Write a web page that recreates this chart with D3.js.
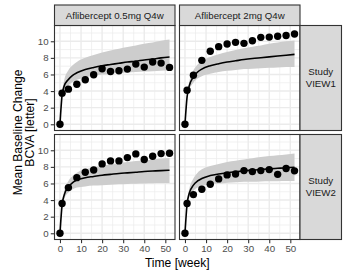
<!DOCTYPE html>
<html>
<head>
<meta charset="utf-8">
<script src="https://cdn.jsdelivr.net/npm/d3@7"></script>
<style>
  body { margin: 0; background: #fff; }
  svg { display: block; font-family: "Liberation Sans", Arial, sans-serif; }
</style>
</head>
<body>
<svg id="chart" width="350" height="278"></svg>
<script>
const doses = ['Aflibercept 0.5mg Q4w', 'Aflibercept 2mg Q4w']
const studies = ['Study\nVIEW1', 'Study\nVIEW2']

const obsWeeks = [0, 1, 4, 8, 12, 16, 20, 24, 28, 32, 36, 40, 44, 48, 52]
const obsView1Low = [0, 3.75, 4.23, 4.83, 5.36, 5.96, 6.69, 6.36, 6.44, 6.65, 7.25, 6.89, 7.5, 7.37, 6.85]
const obsView1High = [0, 4.1, 5.9, 7.7, 8.8, 9.35, 9.67, 9.87, 9.75, 10.07, 10.47, 10.5, 10.6, 10.7, 10.88]
const obsView2Low = [0, 3.58, 5.5, 6.7, 7.35, 7.63, 8.36, 8.72, 8.72, 9.12, 9.56, 8.88, 9.28, 9.6, 9.64]
const obsView2High = [0, 3.58, 4.66, 5.3, 5.9, 6.55, 7.03, 7.15, 7.55, 7.43, 7.55, 7.67, 7.1, 7.8, 7.52]

const predWeeks = [0, 1, 2, 4, 6, 8, 12, 16, 20, 24, 28, 32, 36, 40, 44, 48, 52]
const predView1Low = [0, 3.5, 4.6, 5.4, 5.9, 6.2, 6.6, 6.85, 7.05, 7.2, 7.35, 7.5, 7.6, 7.75, 7.85, 8.0, 8.1]
const upView1Low = [0, 3.8, 5.3, 6.5, 7.1, 7.5, 8.0, 8.35, 8.65, 8.9, 9.1, 9.3, 9.5, 9.7, 9.85, 10.05, 10.2]
const loView1Low = [0, 3.2, 4.0, 4.7, 5.1, 5.35, 5.65, 5.85, 6.0, 6.1, 6.2, 6.25, 6.3, 6.35, 6.4, 6.45, 6.5]
const predView1High = [0, 3.3, 4.6, 5.7, 6.3, 6.65, 7.05, 7.3, 7.5, 7.65, 7.8, 7.92, 8.02, 8.12, 8.22, 8.32, 8.42]
const upView1High = [0, 3.6, 5.1, 6.5, 7.2, 7.6, 8.1, 8.45, 8.7, 8.95, 9.15, 9.35, 9.5, 9.7, 9.85, 10.0, 10.1]
const loView1High = [0, 3.0, 4.1, 5.0, 5.5, 5.8, 6.1, 6.3, 6.45, 6.55, 6.65, 6.7, 6.75, 6.8, 6.85, 6.9, 6.9]
const predView2Low = [0, 3.4, 4.6, 5.6, 6.1, 6.4, 6.7, 6.85, 7.0, 7.1, 7.2, 7.28, 7.36, 7.44, 7.5, 7.55, 7.6]
const upView2Low = [0, 3.7, 5.1, 6.3, 6.9, 7.3, 7.7, 7.95, 8.15, 8.3, 8.45, 8.6, 8.7, 8.8, 8.9, 9.0, 9.08]
const loView2Low = [0, 3.1, 4.1, 4.9, 5.3, 5.5, 5.65, 5.75, 5.8, 5.85, 5.9, 5.95, 5.98, 6.0, 6.03, 6.05, 6.07]
const predView2High = [0, 3.5, 4.8, 5.8, 6.3, 6.6, 6.95, 7.15, 7.3, 7.42, 7.52, 7.6, 7.68, 7.76, 7.83, 7.9, 7.95]
const upView2High = [0, 3.8, 5.3, 6.6, 7.3, 7.7, 8.1, 8.35, 8.6, 8.75, 8.9, 9.05, 9.2, 9.3, 9.4, 9.5, 9.6]
const loView2High = [0, 3.2, 4.3, 5.1, 5.5, 5.7, 5.9, 6.0, 6.1, 6.15, 6.2, 6.22, 6.25, 6.27, 6.28, 6.3, 6.3]

const xTicks = [0, 10, 20, 30, 40, 50]
const yTicks = [0, 2, 4, 6, 8, 10]

const panels = [
  { row: 0, col: 0, obs: obsView1Low, pred: predView1Low, lo: loView1Low, hi: upView1Low },
  { row: 0, col: 1, obs: obsView1High, pred: predView1High, lo: loView1High, hi: upView1High },
  { row: 1, col: 0, obs: obsView2Low, pred: predView2Low, lo: loView2Low, hi: upView2Low },
  { row: 1, col: 1, obs: obsView2High, pred: predView2High, lo: loView2High, hi: upView2High }
]

const marginLeft = 54.5, marginTop = 25.5
const panelW = 120.5, panelH = 105, gapX = 4.5, gapY = 4
const stripH = 20.5, stripW = 41.5
const border = '#333333'
const tickFont = '9.7px', titleFont = '12.1px'

const svg = d3.select('svg#chart')

const x = d3.scaleLinear().domain([-2.6, 54.6]).range([0, panelW])
const y = d3.scaleLinear().domain([-0.75, 11.9]).range([panelH, 0])

const area = d3.area()
  .x(d => x(d.t)).y0(d => y(d.lo)).y1(d => y(d.hi))
  .curve(d3.curveMonotoneX)
const line = d3.line()
  .x(d => x(d.t)).y(d => y(d.v))
  .curve(d3.curveMonotoneX)

panels.forEach(p => {
  const g = svg.append('g')
    .attr('transform', `translate(${marginLeft + p.col * (panelW + gapX)},${marginTop + p.row * (panelH + gapY)})`)

  g.append('rect').attr('width', panelW).attr('height', panelH).attr('fill', '#fff')

  const minorX = [5, 15, 25, 35, 45]
  const minorY = [1, 3, 5, 7, 9, 11]
  g.selectAll('.mx').data(minorX).enter().append('line')
    .attr('x1', d => x(d)).attr('x2', d => x(d)).attr('y1', 0).attr('y2', panelH)
    .attr('stroke', '#EBEBEB').attr('stroke-width', 0.7)
  g.selectAll('.my').data(minorY).enter().append('line')
    .attr('y1', d => y(d)).attr('y2', d => y(d)).attr('x1', 0).attr('x2', panelW)
    .attr('stroke', '#EBEBEB').attr('stroke-width', 0.7)
  g.selectAll('.gx').data(xTicks).enter().append('line')
    .attr('x1', d => x(d)).attr('x2', d => x(d)).attr('y1', 0).attr('y2', panelH)
    .attr('stroke', '#EBEBEB').attr('stroke-width', 1.4)
  g.selectAll('.gy').data(yTicks).enter().append('line')
    .attr('y1', d => y(d)).attr('y2', d => y(d)).attr('x1', 0).attr('x2', panelW)
    .attr('stroke', '#EBEBEB').attr('stroke-width', 1.4)

  const band = predWeeks.map((t, i) => ({ t: t, v: p.pred[i], lo: p.lo[i], hi: p.hi[i] }))
  g.append('path').datum(band).attr('d', area).attr('fill', '#CDCDCD')
  g.append('path').datum(band).attr('d', line)
    .attr('fill', 'none').attr('stroke', '#000').attr('stroke-width', 1.6)

  g.selectAll('circle').data(obsWeeks.map((t, i) => ({ t: t, v: p.obs[i] })))
    .enter().append('circle')
    .attr('cx', d => x(d.t)).attr('cy', d => y(d.v)).attr('r', 3.7).attr('fill', '#000')

  g.append('rect').attr('width', panelW).attr('height', panelH)
    .attr('fill', 'none').attr('stroke', border).attr('stroke-width', 1.1)

  if (p.col === 0) {
    const ay = g.append('g').call(d3.axisLeft(y).tickValues(yTicks).tickSize(3.7).tickPadding(2.2))
    ay.select('.domain').remove()
    ay.selectAll('line').attr('stroke', border).attr('stroke-width', 1.1)
    ay.selectAll('text').attr('fill', '#4D4D4D').style('font-size', tickFont)
      .style('font-family', '"Liberation Sans", Arial, sans-serif')
  }
  if (p.row === 1) {
    const ax = g.append('g').attr('transform', `translate(0,${panelH})`)
      .call(d3.axisBottom(x).tickValues(xTicks).tickSize(3.7).tickPadding(2.2))
    ax.select('.domain').remove()
    ax.selectAll('line').attr('stroke', border).attr('stroke-width', 1.1)
    ax.selectAll('text').attr('fill', '#4D4D4D').style('font-size', tickFont)
      .style('font-family', '"Liberation Sans", Arial, sans-serif')
  }
  if (p.row === 0) {
    g.append('rect').attr('y', -stripH).attr('width', panelW).attr('height', stripH)
      .attr('fill', '#D9D9D9').attr('stroke', border).attr('stroke-width', 1.1)
    g.append('text').attr('x', panelW / 2).attr('y', -stripH / 2 + 3.4)
      .attr('text-anchor', 'middle').attr('fill', '#1A1A1A').style('font-size', tickFont)
      .text(doses[p.col])
  }
  if (p.col === 1) {
    g.append('rect').attr('x', panelW).attr('width', stripW).attr('height', panelH)
      .attr('fill', '#D9D9D9').attr('stroke', border).attr('stroke-width', 1.1)
    const t = g.append('text').attr('text-anchor', 'middle').attr('fill', '#1A1A1A')
      .style('font-size', tickFont)
    studies[p.row].split('\n').forEach((s, i) => {
      t.append('tspan').attr('x', panelW + stripW / 2).attr('y', panelH / 2 - 3 + i * 11.8).text(s)
    })
  }
})

svg.append('text')
  .attr('x', marginLeft + panelW + gapX / 2).attr('y', 267)
  .attr('text-anchor', 'middle').style('font-size', titleFont).attr('fill', '#000')
  .text('Time [week]')

const midY = marginTop + panelH + gapY / 2
const yt = svg.append('text')
  .attr('transform', `translate(0,${midY}) rotate(-90)`)
  .attr('text-anchor', 'middle').style('font-size', titleFont).attr('fill', '#000')
yt.append('tspan').attr('x', 0).attr('y', 21.5).text('Mean Baseline Change')
yt.append('tspan').attr('x', 0).attr('y', 34).text('BCVA [letter]')
</script>
</body>
</html>
